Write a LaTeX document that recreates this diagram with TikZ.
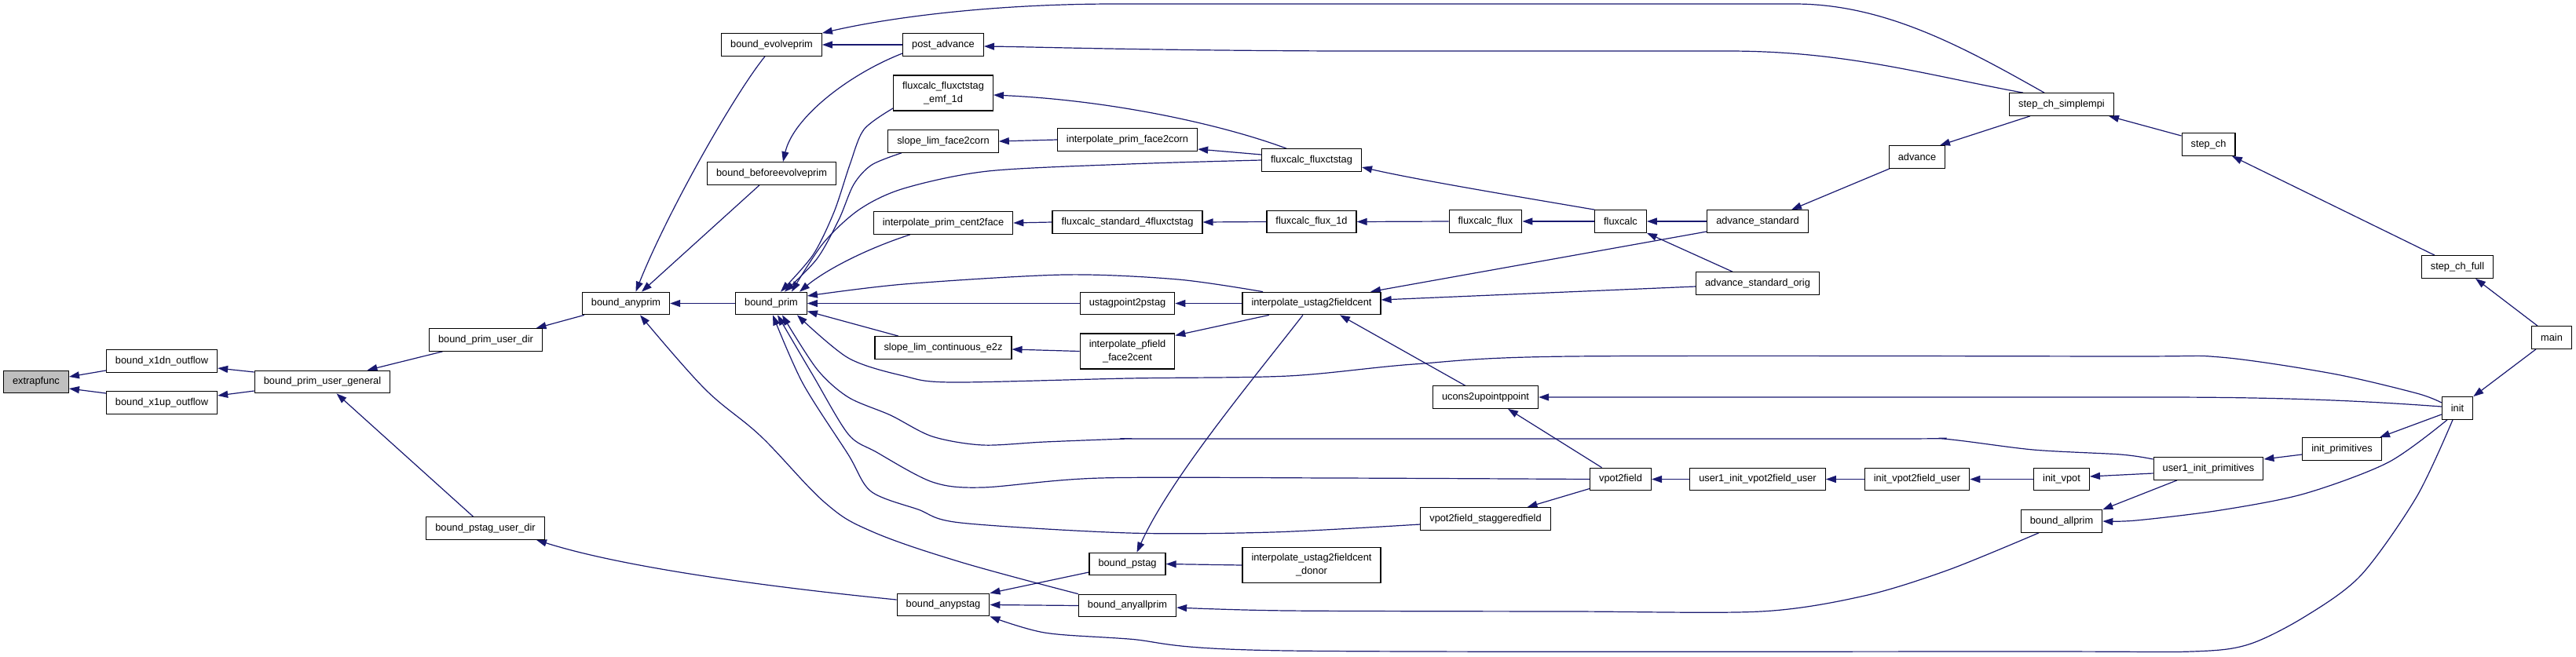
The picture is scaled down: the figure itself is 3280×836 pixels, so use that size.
\documentclass[tikz,border=0pt]{standalone}
\usepackage{fontspec}
\setmainfont{Liberation Sans}
\usetikzlibrary{arrows.meta}
\definecolor{edgec}{HTML}{191970}
\definecolor{nodegray}{HTML}{BFBFBF}
\pgfdeclarelayer{bg}
\pgfsetlayers{bg,main}
\begin{document}
\begin{tikzpicture}[x=1pt,y=-1pt,
  fn/.style={draw=black, line width=1.2pt, fill=white, inner xsep=11.5pt, inner ysep=0pt, minimum height=28.5pt, font=\fontsize{12.8pt}{17pt}\selectfont},
  fn2/.style={fn, minimum height=45pt, align=center},
  edge/.style={draw=edgec, line width=1.2pt, -{Triangle[length=13pt,width=9pt]}},
]
\useasboundingbox (0,0) rectangle (3280,836);

\node[fn, fill=nodegray] (extrapfunc) at (46,486.5) {extrapfunc};
\node[fn] (bx1dn) at (206,460) {bound\_x1dn\_outflow};
\node[fn] (bx1up) at (206,513) {bound\_x1up\_outflow};
\node[fn] (bpug) at (410.5,486.5) {bound\_prim\_user\_general};
\node[fn] (bpud) at (618.5,433) {bound\_prim\_user\_dir};
\node[fn] (bpsud) at (618,673) {bound\_pstag\_user\_dir};
\node[fn] (banyprim) at (797,386.5) {bound\_anyprim};
\node[fn] (bevolve) at (982.5,57) {bound\_evolveprim};
\node[fn] (bbefore) at (982.5,221) {bound\_beforeevolveprim};
\node[fn] (bprim) at (982,386.5) {bound\_prim};
\node[fn] (postadv) at (1201,57) {post\_advance};
\node[fn2] (emf1d) at (1201,118.5) {fluxcalc\_fluxctstag\\\_emf\_1d};
\node[fn] (slf2c) at (1201,180) {slope\_lim\_face2corn};
\node[fn] (ipc2f) at (1201,284) {interpolate\_prim\_cent2face};
\node[fn] (slce2z) at (1201,443) {slope\_lim\_continuous\_e2z};
\node[fn] (banypstag) at (1201,770.5) {bound\_anypstag};
\node[fn] (ipf2c) at (1435.5,178) {interpolate\_prim\_face2corn};
\node[fn] (fs4) at (1435.5,283) {fluxcalc\_standard\_4fluxctstag};
\node[fn] (usp2p) at (1435.5,386.5) {ustagpoint2pstag};
\node[fn2] (ipff2c) at (1435.5,447.5) {interpolate\_pfield\\\_face2cent};
\node[fn] (bpstag) at (1435.5,718.5) {bound\_pstag};
\node[fn] (banyall) at (1435.5,771.5) {bound\_anyallprim};
\node[fn] (fxct) at (1670,204) {fluxcalc\_fluxctstag};
\node[fn] (ff1d) at (1670,282.5) {fluxcalc\_flux\_1d};
\node[fn] (iu2fc) at (1670,386.5) {interpolate\_ustag2fieldcent};
\node[fn2] (iu2fcd) at (1670,720) {interpolate\_ustag2fieldcent\\\_donor};
\node[fn] (fflux) at (1891.5,282) {fluxcalc\_flux};
\node[fn] (ucons) at (1891.5,506) {ucons2upointppoint};
\node[fn] (vpsf) at (1891.5,661) {vpot2field\_staggeredfield};
\node[fn] (fluxcalc) at (2063.5,282) {fluxcalc};
\node[fn] (vpot) at (2063.5,610.5) {vpot2field};
\node[fn] (advstd) at (2238,282) {advance\_standard};
\node[fn] (advorig) at (2238,361) {advance\_standard\_orig};
\node[fn] (u1ivu) at (2238,610.5) {user1\_init\_vpot2field\_user};
\node[fn] (advance) at (2441,200) {advance};
\node[fn] (ivu) at (2441,610.5) {init\_vpot2field\_user};
\node[fn] (ssm) at (2625,133) {step\_ch\_simplempi};
\node[fn] (initvpot) at (2625,610.5) {init\_vpot};
\node[fn] (ballprim) at (2625,664) {bound\_allprim};
\node[fn] (stepch) at (2812,184) {step\_ch};
\node[fn] (u1ip) at (2812,597) {user1\_init\_primitives};
\node[fn] (initprim) at (2982,572) {init\_primitives};
\node[fn] (scf) at (3129,340) {step\_ch\_full};
\node[fn] (init) at (3129,520) {init};
\node[fn] (main) at (3249,430) {main};

\begin{pgfonlayer}{bg}
\draw[edge] ([yshift=-12pt]bx1dn.west) -- ([yshift=6.5pt]extrapfunc.east);
\draw[edge] ([yshift=12pt]bx1up.west) -- ([yshift=-8.5pt]extrapfunc.east);
\draw[edge] ([yshift=12.5pt]bpug.west) -- ([yshift=-9pt]bx1dn.east);
\draw[edge] ([yshift=-11.5pt]bpug.west) -- ([yshift=9pt]bx1up.east);
\draw[edge] ([xshift=-55pt]bpud.south) -- ([xshift=57pt]bpug.north);
\draw[edge] ([xshift=-15.5pt]bpsud.north) -- ([xshift=18pt]bpug.south);
\draw[edge] ([xshift=-53pt]banyprim.south) -- ([xshift=64pt]bpud.north);
\draw[edge] ([yshift=6.5pt]banypstag.west) .. controls (1000,750) and (800,725) .. ([xshift=65pt]bpsud.south);
\draw[edge] ([xshift=-8.5pt]bevolve.south) .. controls (935,120) and (850,270) .. ([xshift=12.5pt]banyprim.north);
\draw[edge] ([xshift=-15.5pt]bbefore.south) -- ([xshift=20pt]banyprim.north);
\draw[edge] (bprim.west) -- (banyprim.east);
\draw[edge] plot[smooth, tension=0.6] coordinates {(banyall.north west) (1223,716) (1110,677) (1050,640) (969,556) (897,495) ([xshift=18pt]banyprim.south)};
\draw[edge] (postadv.west) -- (bevolve.east);
\draw[edge] ([xshift=-22pt]ssm.north) .. controls (2500,60) and (2400,5) .. (2285,5) -- (1420,5) .. controls (1250,5) and (1120,25) .. (bevolve.north east);
\draw[edge] ([xshift=-49pt]ssm.north) .. controls (2450,95) and (2350,65) .. (2200,65) -- (1700,65) .. controls (1450,64) and (1330,60) .. ([yshift=-2pt]postadv.east);
\draw[edge] ([yshift=-11pt]postadv.west) .. controls (1080,95) and (1010,150) .. ([xshift=14.5pt]bbefore.north);
\draw[edge] plot[smooth] coordinates {([yshift=-19.5pt]emf1d.west) (1100,165) (1082,210) (1062,270) (1035,325) ([xshift=12pt]bprim.north)};
\draw[edge] plot[smooth] coordinates {([xshift=-53pt]slf2c.south) (1110,210) (1087,235) (1068,280) (1040,330) ([xshift=17pt]bprim.north)};
\draw[edge] plot[smooth] coordinates {(fxct.west) (1437,209) (1258,218) (1151,240) (1094,267) (1048,310) ([xshift=26pt]bprim.north)};
\draw[edge] ([xshift=-42pt]ipc2f.south) .. controls (1100,318) and (1050,345) .. ([xshift=36pt]bprim.north);
\draw[edge] plot[smooth] coordinates {([xshift=-62pt]iu2fc.north) (1500,356) (1355,350) (1151,362) ([yshift=9.5pt]bprim.east)};
\draw[edge] (usp2p.west) -- (bprim.east);
\draw[edge] ([xshift=-57pt]slce2z.north) -- ([yshift=-10pt]bprim.east);
\draw[edge] plot[smooth] coordinates {([yshift=7pt]init.west) (3077,501) (2970,476) (2827,455) (2700,454) (2000,454) (1800,464) (1640,479) (1437,482) (1212,487) (1151,479) (1080,456) ([xshift=33pt]bprim.south)};
\draw[edge] plot[smooth] coordinates {([yshift=12pt]u1ip.west) (2700,579) (2589,573) (2474,559) (2400,559) (1500,559) (1437,559) (1330,563) (1251,567) (1187,556) (1134,529) (1080,506) (1040,470) ([xshift=14pt]bprim.south)};
\draw[edge] plot[smooth] coordinates {(vpot.west) (1700,609) (1401,609) (1251,621) (1187,614) (1116,576) (1080,553) (1035,478) ([xshift=8pt]bprim.south)};
\draw[edge] plot[smooth] coordinates {([yshift=-7pt]vpsf.west) (1620,678) (1437,679) (1223,666) (1169,649) (1109,626) (1080,579) (1022,488) ([xshift=2pt]bprim.south)};
\draw[edge] (ipff2c.west) -- ([yshift=-2pt]slce2z.east);
\draw[edge] ([xshift=-54pt]iu2fc.south) -- ([yshift=-3pt]ipff2c.north east);
\draw[edge] (iu2fc.west) -- (usp2p.east);
\draw[edge] ([xshift=-26pt]ucons.north) -- ([xshift=36pt]iu2fc.south);
\draw[edge] ([yshift=2pt]init.west) .. controls (3000,510) and (2900,506) .. (2750,506) -- (ucons.east);
\draw[edge] (ff1d.west) -- (fs4.east);
\draw[edge] (fs4.west) -- (ipc2f.east);
\draw[edge] (fflux.west) -- (ff1d.east);
\draw[edge] (fluxcalc.west) -- (fflux.east);
\draw[edge] ([yshift=7pt]fxct.west) -- ([yshift=-12pt]ipf2c.east);
\draw[edge] (ipf2c.west) -- (slf2c.east);
\draw[edge] ([xshift=-32pt]fxct.north) .. controls (1560,160) and (1420,128) .. ([yshift=-2.5pt]emf1d.east);
\draw[edge] ([xshift=-33pt]fluxcalc.north) .. controls (1900,245) and (1800,228) .. ([yshift=-9pt]fxct.east);
\draw[edge] (advstd.west) -- (fluxcalc.east);
\draw[edge] ([xshift=-32pt]advorig.north) -- (fluxcalc.south east);
\draw[edge] ([yshift=-13pt]advstd.west) -- ([xshift=75pt]iu2fc.north);
\draw[edge] ([yshift=-4pt]advorig.west) -- ([yshift=4.5pt]iu2fc.east);
\draw[edge] ([xshift=-35pt]advance.south) -- ([xshift=43pt]advstd.north);
\draw[edge] ([xshift=-40pt]ssm.south) -- ([xshift=29pt]advance.north);
\draw[edge] ([yshift=11pt]stepch.west) -- ([xshift=60pt]ssm.south);
\draw[edge] ([xshift=-29pt]scf.north) -- ([xshift=30pt]stepch.south);
\draw[edge] ([xshift=-18pt]main.north) -- ([xshift=23pt]scf.south);
\draw[edge] ([xshift=-20pt]main.south) -- (init.north east);
\draw[edge] ([yshift=-8pt]init.west) -- ([xshift=48pt]initprim.north);
\draw[edge] ([yshift=-7pt]initprim.west) -- ([yshift=12pt]u1ip.east);
\draw[edge] plot[smooth] coordinates {([xshift=-13pt]init.south) (3041,589) (2934,629) (2827,650) (2720,663) (ballprim.east)};
\draw[edge] plot[smooth] coordinates {([xshift=-6pt]init.south) (3077,633) (3006,733) (2934,786) (2863,821) (2791,830) (2600,830) (1640,829) (1437,814) (1330,806) (banypstag.south east)};
\draw[edge] plot[smooth] coordinates {([xshift=-29pt]ballprim.south) (2481,726) (2374,759) (2242,779) (2000,779) (1640,778) ([yshift=-2.5pt]banyall.east)};
\draw[edge] ([xshift=-40pt]u1ip.south) -- (ballprim.north east);
\draw[edge] ([yshift=-6pt]u1ip.west) -- ([yshift=3.5pt]initvpot.east);
\draw[edge] (initvpot.west) -- (ivu.east);
\draw[edge] (ivu.west) -- (u1ivu.east);
\draw[edge] (u1ivu.west) -- (vpot.east);
\draw[edge] ([xshift=-24pt]vpot.north) -- ([xshift=28.5pt]ucons.south);
\draw[edge] ([yshift=-12pt]vpot.west) -- ([xshift=53pt]vpsf.north);
\draw[edge] (iu2fcd.west) -- (bpstag.east);
\draw[edge] ([yshift=-10.5pt]bpstag.west) -- (banypstag.north east);
\draw[edge] (banyall.west) -- (banypstag.east);
\draw[edge] ([xshift=-11pt]iu2fc.south) .. controls (1590,490) and (1490,610) .. ([xshift=12pt]bpstag.north);
\end{pgfonlayer}
\end{tikzpicture}
\end{document}
